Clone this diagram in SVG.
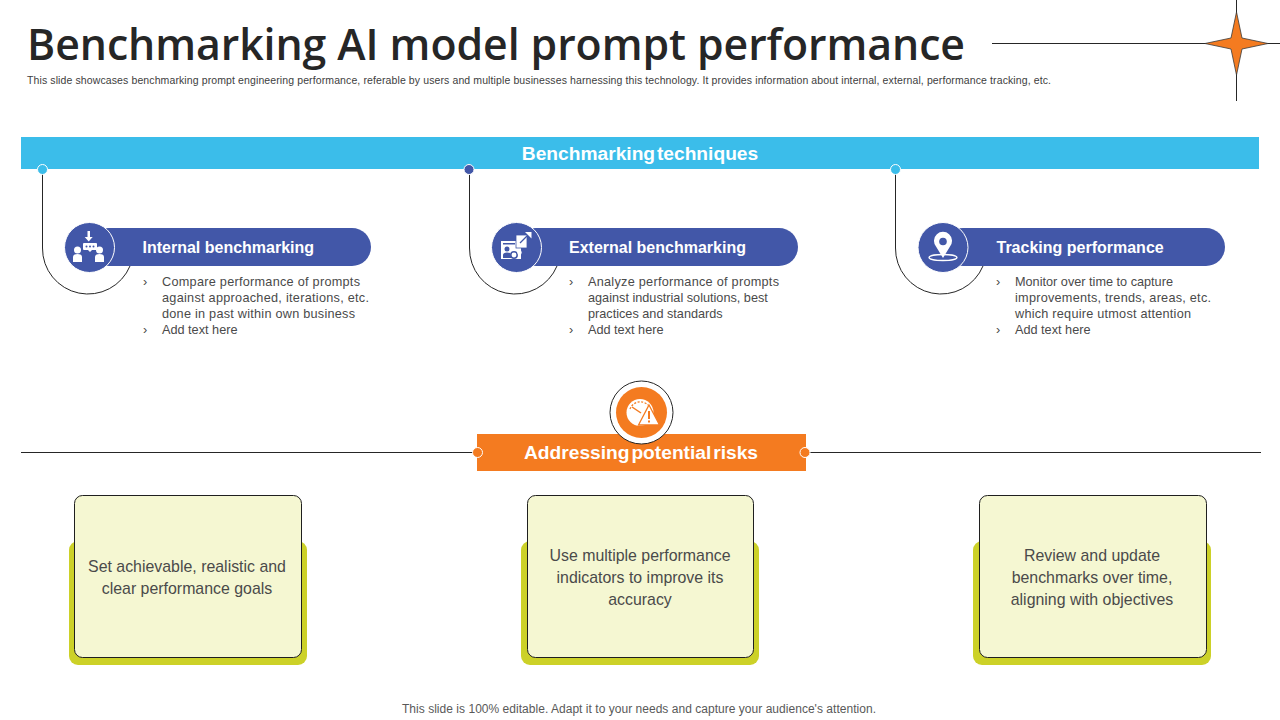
<svg xmlns="http://www.w3.org/2000/svg" width="1280" height="720" viewBox="0 0 1280 720">
<style>
text{font-family:"Liberation Sans",Arial,sans-serif}
.title{font-family:"Open Sans","Noto Sans",sans-serif;font-size:42.800px;font-weight:600;fill:#262626}
.sub{font-size:10.5px;fill:#404040}
.band{font-size:19.2px;font-weight:700;fill:#fff;text-anchor:middle;word-spacing:-3.5px}
.pilltxt{font-size:16px;font-weight:700;fill:#fff}
.body{font-size:12.7px;fill:#4a4a4a}
.card{font-size:15.9px;fill:#4a4a4a;text-anchor:middle}
.foot{font-size:12px;fill:#595959;text-anchor:middle}
.line{fill:none;stroke:#262626;stroke-width:1}
.pill{fill:#4257a8}
.disc{fill:#4257a8;stroke:#fff;stroke-width:1}
.under{fill:#ccd128}
.face{fill:#f5f7d2;stroke:#1f1f1f;stroke-width:1}
.w{fill:#fff}
.b{fill:#4257a8}
.ws{fill:none;stroke:#fff;stroke-width:1.3}
</style>
<g id="header">
<text class="title" x="27" y="60" textLength="938">Benchmarking AI model prompt performance</text>
<text class="sub" x="27" y="84" textLength="1024">This slide showcases benchmarking prompt engineering performance, referable by users and multiple businesses harnessing this technology. It provides information about internal, external, performance tracking, etc.</text>
</g>
<g id="star">
<path class="line" d="M992 43.500H1280M1236.500 0V101"/>
<path d="M1236.500 12L1242 38L1268 43.500L1242 49L1236.500 75L1231 49L1205 43.500L1231 38Z" fill="#f47b20" stroke="#3a3a3a" stroke-width="0.8"/>
</g>
<g id="connectors">
<path class="line" d="M42.500 170V248A45.500 45.500 0 0 0 130 266"/>
<path class="line" d="M469.500 170V248A45.500 45.500 0 0 0 557 266"/>
<path class="line" d="M895.500 170V248A45.500 45.500 0 0 0 983 266"/>
<path class="line" d="M21 452.500H478M804 452.500H1261"/>
</g>
<g id="techniques-band">
<rect x="21" y="137" width="1238" height="32" fill="#3bbdea"/>
<text class="band" x="640" y="160">Benchmarking techniques</text>
<circle cx="42.500" cy="169.500" r="5" fill="#3bbdea" stroke="#fff"/>
<circle cx="469" cy="169.500" r="5" fill="#4257a8" stroke="#fff"/>
<circle cx="895.500" cy="169.500" r="5" fill="#3bbdea" stroke="#fff"/>
</g>
<g id="node-internal">
<rect class="pill" x="90" y="228" width="281" height="38" rx="19"/>
<circle class="disc" cx="89.500" cy="247.500" r="25"/>
<path class="w" d="M87.500 231h2.500v6h2.700l-4 4.500-4-4.500h2.800z"/>
<path class="w" d="M84 243h12a1 1 0 0 1 1 1v5a1 1 0 0 1-1 1h-4l-2 2-2-2h-4a1 1 0 0 1-1-1v-5a1 1 0 0 1 1-1z"/>
<circle class="b" cx="86.500" cy="246.500" r="1"/><circle class="b" cx="90" cy="246.500" r="1"/><circle class="b" cx="93.500" cy="246.500" r="1"/>
<circle class="w" cx="77.500" cy="250" r="3.500"/><path class="w" d="M73 262v-5q0-3 4.500-3t4.500 3v5z"/>
<circle class="w" cx="99.500" cy="250" r="3.500"/><path class="w" d="M95 262v-5q0-3 4.500-3t4.500 3v5z"/>
<text class="pilltxt" x="142.500" y="253">Internal benchmarking</text>
<text class="body" x="143" y="286">›</text>
<text class="body" x="162" y="286" textLength="198">Compare performance of prompts</text>
<text class="body" x="162" y="302" textLength="207">against approached, iterations, etc.</text>
<text class="body" x="162" y="318" textLength="193">done in past within own business</text>
<text class="body" x="143" y="334">›</text>
<text class="body" x="162" y="334">Add text here</text>
</g>
<g id="node-external">
<rect class="pill" x="517" y="228" width="281" height="38" rx="19"/>
<circle class="disc" cx="516.500" cy="247.500" r="25"/>
<rect class="w" x="501" y="241" width="20" height="18"/>
<rect class="b" x="503" y="243" width="12" height="1.500"/>
<rect class="w" x="516" y="235" width="11" height="13" stroke="#4257a8" stroke-width="0.8"/>
<path d="M520 243l7-7" stroke="#4257a8" stroke-width="1.300"/>
<path class="w" d="M525 232h6.500v6.500z"/>
<circle class="b" cx="507" cy="249" r="2.500"/><path class="b" d="M503 258v-3q0-2.500 4-2.500t4 2.500v3z"/>
<circle class="w" cx="514" cy="255" r="3.200" stroke="#4257a8" stroke-width="1.500"/>
<circle class="ws" cx="519.500" cy="252.500" r="1.600"/>
<text class="pilltxt" x="569" y="253">External benchmarking</text>
<text class="body" x="569" y="286">›</text>
<text class="body" x="588" y="286" textLength="191">Analyze performance of prompts</text>
<text class="body" x="588" y="302">against industrial solutions, best</text>
<text class="body" x="588" y="318">practices and standards</text>
<text class="body" x="569" y="334">›</text>
<text class="body" x="588" y="334">Add text here</text>
</g>
<g id="node-tracking">
<rect class="pill" x="944" y="228" width="281" height="38" rx="19"/>
<circle class="disc" cx="943" cy="247.500" r="25"/>
<ellipse class="ws" cx="943" cy="257.500" rx="14" ry="3"/>
<path class="w" d="M943 258l-7-11.500a9 9 0 1 1 14 0z"/>
<circle class="b" cx="943" cy="241.500" r="3.800"/>
<text class="pilltxt" x="996.500" y="253">Tracking performance</text>
<text class="body" x="996" y="286">›</text>
<text class="body" x="1015" y="286">Monitor over time to capture</text>
<text class="body" x="1015" y="302" textLength="196">improvements, trends, areas, etc.</text>
<text class="body" x="1015" y="318" textLength="176">which require utmost attention</text>
<text class="body" x="996" y="334">›</text>
<text class="body" x="1015" y="334">Add text here</text>
</g>
<g id="risks-band">
<rect x="477" y="434" width="329" height="37" fill="#f47b20"/>
<text class="band" x="641" y="459">Addressing potential risks</text>
<circle cx="477.500" cy="452.500" r="5" fill="#f47b20" stroke="#fff"/>
<circle cx="805" cy="452.500" r="5" fill="#f47b20" stroke="#fff"/>
<circle cx="641.500" cy="412.500" r="31.500" fill="#fff" stroke="#262626"/>
<circle cx="641.500" cy="412.500" r="25.500" fill="#f47b20"/>
<circle class="w" cx="640" cy="412.500" r="13.500"/>
<path d="M630 409a11 11 0 0 1 18-4" fill="none" stroke="#f47b20" stroke-width="1.300" stroke-dasharray="2 1.500"/>
<path d="M632 407l9 6" stroke="#f47b20" stroke-width="1.500"/>
<path d="M649 405l10.500 20h-21z" fill="#fff" stroke="#f47b20" stroke-width="1.300"/>
<path d="M649 411v8M649 420.500v2" stroke="#f47b20" stroke-width="2"/>
</g>
<g id="card-1">
<rect class="under" x="69" y="541" width="238" height="124" rx="9"/>
<rect class="face" x="74.500" y="495.500" width="227" height="162" rx="8"/>
<text class="card" x="187" y="572">Set achievable, realistic and</text>
<text class="card" x="187" y="594">clear performance goals</text>
</g>
<g id="card-2">
<rect class="under" x="521" y="541" width="238" height="124" rx="9"/>
<rect class="face" x="527.500" y="495.500" width="226" height="162" rx="8"/>
<text class="card" x="640" y="561">Use multiple performance</text>
<text class="card" x="640" y="583">indicators to improve its</text>
<text class="card" x="640" y="605">accuracy</text>
</g>
<g id="card-3">
<rect class="under" x="973" y="541" width="238" height="124" rx="9"/>
<rect class="face" x="979.500" y="495.500" width="227" height="162" rx="8"/>
<text class="card" x="1092" y="561">Review and update</text>
<text class="card" x="1092" y="583">benchmarks over time,</text>
<text class="card" x="1092" y="605">aligning with objectives</text>
</g>
<text class="foot" x="639" y="713" textLength="474">This slide is 100% editable. Adapt it to your needs and capture your audience's attention.</text>
</svg>
